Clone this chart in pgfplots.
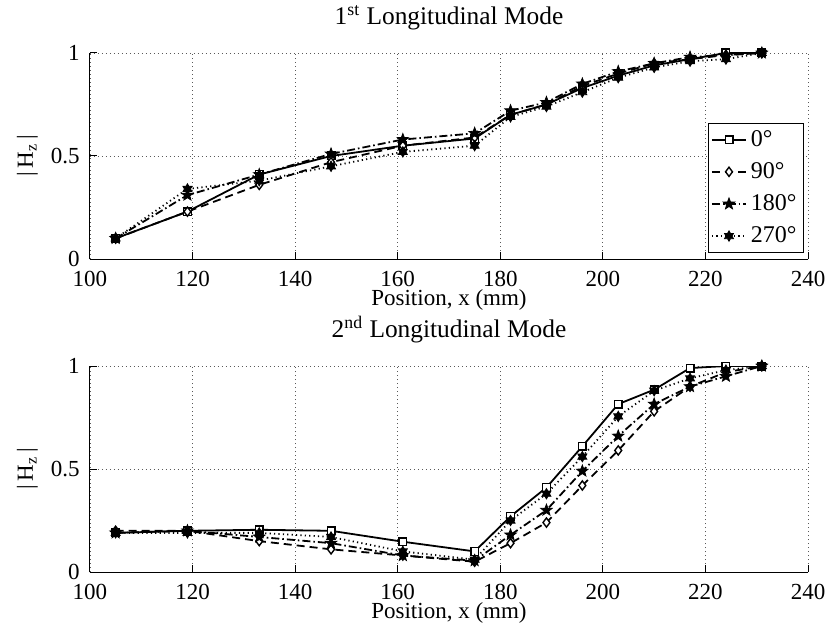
\documentclass[border=0pt]{standalone}
\usepackage{fontspec}
\setmainfont{Liberation Serif}
\usepackage{pgfplots}
\usepackage{pgfplotstable}
\pgfplotsset{compat=1.18}
\usetikzlibrary{plotmarks}

% filled five-point star
\pgfdeclareplotmark{fstar}{%
  \pgfpathmoveto{\pgfpointpolar{90}{\pgfplotmarksize}}%
  \pgfpathlineto{\pgfpointpolar{126}{0.42\pgfplotmarksize}}%
  \pgfpathlineto{\pgfpointpolar{162}{\pgfplotmarksize}}%
  \pgfpathlineto{\pgfpointpolar{198}{0.42\pgfplotmarksize}}%
  \pgfpathlineto{\pgfpointpolar{234}{\pgfplotmarksize}}%
  \pgfpathlineto{\pgfpointpolar{270}{0.42\pgfplotmarksize}}%
  \pgfpathlineto{\pgfpointpolar{306}{\pgfplotmarksize}}%
  \pgfpathlineto{\pgfpointpolar{342}{0.42\pgfplotmarksize}}%
  \pgfpathlineto{\pgfpointpolar{18}{\pgfplotmarksize}}%
  \pgfpathlineto{\pgfpointpolar{54}{0.42\pgfplotmarksize}}%
  \pgfpathclose\pgfusepathqfillstroke}
% six-point star (hexagram)
\pgfdeclareplotmark{hexa}{%
  \pgfpathmoveto{\pgfpointpolar{90}{\pgfplotmarksize}}%
  \pgfpathlineto{\pgfpointpolar{120}{0.58\pgfplotmarksize}}%
  \pgfpathlineto{\pgfpointpolar{150}{\pgfplotmarksize}}%
  \pgfpathlineto{\pgfpointpolar{180}{0.58\pgfplotmarksize}}%
  \pgfpathlineto{\pgfpointpolar{210}{\pgfplotmarksize}}%
  \pgfpathlineto{\pgfpointpolar{240}{0.58\pgfplotmarksize}}%
  \pgfpathlineto{\pgfpointpolar{270}{\pgfplotmarksize}}%
  \pgfpathlineto{\pgfpointpolar{300}{0.58\pgfplotmarksize}}%
  \pgfpathlineto{\pgfpointpolar{330}{\pgfplotmarksize}}%
  \pgfpathlineto{\pgfpointpolar{0}{0.58\pgfplotmarksize}}%
  \pgfpathlineto{\pgfpointpolar{30}{\pgfplotmarksize}}%
  \pgfpathlineto{\pgfpointpolar{60}{0.58\pgfplotmarksize}}%
  \pgfpathclose\pgfusepathqfillstroke}

\pgfplotstableread{
x   a0    a90   a180  a270
105 0.10  0.10  0.10  0.10
119 0.23  0.23  0.31  0.34
133 0.41  0.36  0.41  0.38
147 0.50  0.47  0.51  0.45
161 0.55  0.55  0.58  0.52
175 0.585 0.59  0.61  0.55
182 0.70  0.70  0.72  0.69
189 0.75  0.75  0.76  0.74
196 0.83  0.84  0.85  0.81
203 0.89  0.90  0.91  0.88
210 0.94  0.95  0.95  0.93
217 0.97  0.97  0.98  0.96
224 1.00  0.99  0.99  0.97
231 1.00  1.00  1.00  1.00
}\firstmode

\pgfplotstableread{
x   a0    a90   a180  a270
105 0.19  0.20  0.19  0.19
119 0.20  0.20  0.20  0.19
133 0.205 0.15  0.17  0.19
147 0.20  0.11  0.14  0.17
161 0.147 0.08  0.08  0.10
175 0.10  0.05  0.055 0.06
182 0.27  0.14  0.18  0.25
189 0.41  0.24  0.30  0.38
196 0.61  0.42  0.49  0.56
203 0.815 0.59  0.66  0.755
210 0.885 0.78  0.815 0.88
217 0.99  0.90  0.90  0.94
224 1.00  0.97  0.95  0.98
231 1.00  1.00  1.00  1.00
}\secondmode

\pgfplotsset{
  modeaxis/.style={
    scale only axis, width=359bp, height=103bp,
    xmin=100, xmax=240, ymin=0, ymax=1,
    xtick={100,120,...,240}, ytick={0,0.5,1},
    yticklabels={0,0.5,1},
    axis lines=left, axis line style={-, line width=0.5bp},
    tick align=inside, major tick length=3.5bp,
    tick style={line width=0.5bp, black},
    grid=major, grid style={black!65, line width=0.4bp, dash pattern=on 0.4bp off 1.6bp},
    font=\fontsize{11.5bp}{13.8bp}\selectfont,
    /pgf/number format/assume math mode=true,
    xticklabel style={anchor=base, yshift=-13.5bp, inner sep=0pt},
    yticklabel style={anchor=east, inner sep=0pt, xshift=-5bp},
    xlabel={Position, x (mm)},
    xlabel style={at={(axis description cs:0.5,-0.228)}, anchor=base, inner sep=0pt},
    ylabel={\textbar\,H\textsubscript{z}\,\textbar},
    ylabel style={at={(axis description cs:-0.0794,0.5)}, anchor=base, inner sep=0pt},
    title style={at={(axis description cs:0.5,1.08)}, anchor=base, inner sep=0pt,
      font=\fontsize{12.7bp}{15bp}\selectfont},
    every axis plot/.append style={line width=0.9bp, black},
  },
  s0/.style={solid, mark=square*, mark size=1.9bp, mark options={solid, fill=white, line width=0.7bp}},
  s90/.style={dash pattern=on 4bp off 2.5bp, mark=diamond*, mark size=2.3bp, mark options={solid, fill=white, line width=0.7bp}},
  s180/.style={dash pattern=on 4bp off 1.5bp on 0.8bp off 1.5bp, mark=fstar, mark size=3bp, mark options={solid, fill=black, line width=0.4bp}},
  s270/.style={dash pattern=on 0.6bp off 1.6bp, mark=hexa, mark size=2.6bp, mark options={solid, fill=black, line width=0.4bp}},
}

\begin{document}
\begin{tikzpicture}
\begin{axis}[modeaxis, at={(0,0)}, anchor=south west,
  title={1\textsuperscript{st} Longitudinal Mode},
  legend style={at={(axis description cs:0.9944,0.029)}, anchor=south east,
    draw=black, line width=0.5bp, fill=white, font=\fontsize{12bp}{14bp}\selectfont,
    row sep=2.6bp, inner sep=1.5bp},
  legend cell align=left]
  \addplot[s0] table[x=x, y=a0] {\firstmode};
  \addplot[s90] table[x=x, y=a90] {\firstmode};
  \addplot[s180] table[x=x, y=a180] {\firstmode};
  \addplot[s270] table[x=x, y=a270] {\firstmode};
  \legend{0°, 90°, 180°, 270°}
\end{axis}
\begin{axis}[modeaxis, at={(0,-156.5bp)}, anchor=south west,
  title={2\textsuperscript{nd} Longitudinal Mode}]
  \addplot[s0] table[x=x, y=a0] {\secondmode};
  \addplot[s90] table[x=x, y=a90] {\secondmode};
  \addplot[s180] table[x=x, y=a180] {\secondmode};
  \addplot[s270] table[x=x, y=a270] {\secondmode};
\end{axis}
\pgfresetboundingbox
\path[use as bounding box] (-45bp,129.5bp) rectangle (370bp,-182.5bp);
\end{tikzpicture}
\end{document}
